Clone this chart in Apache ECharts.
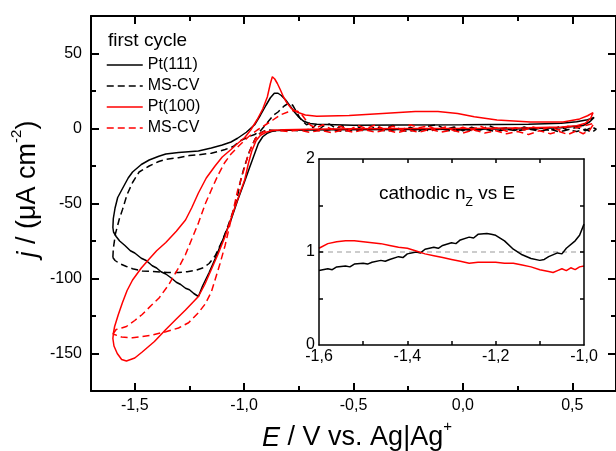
<!DOCTYPE html>
<html><head><meta charset="utf-8">
<script src="https://cdn.jsdelivr.net/npm/echarts@6/dist/echarts.min.js"></script>
<style>html,body{margin:0;padding:0;background:#fff}#c{width:616px;height:451px}</style>
</head><body><div id="c"></div>
<script>
// ---- tick labels / ticks ----
const mainXLabels = [-1.5, -1.0, -0.5, 0.0, 0.5];
const mainXMinor = [-1.25, -0.75, -0.25, 0.25];
const mainYLabels = [-150, -100, -50, 0, 50];
const mainYMinor = [-125, -75, -25, 25];
const insetXLabels = [-1.6, -1.4, -1.2, -1.0];
const insetXTicks = [-1.5, -1.4, -1.3, -1.2, -1.1];
const insetYLabels = [0, 1, 2];
const insetYTicks = [0.5, 1, 1.5];
const legendNames = ['Pt(111)', 'MS-CV', 'Pt(100)', 'MS-CV '];

// ---- main CVs: [E (V), j (uA cm-2)] ----
const pt111 = [
[-1.600,-66],[-1.598,-60],[-1.590,-53],[-1.578,-46],[-1.556,-40],[-1.530,-33],[-1.510,-29],[-1.470,-24],[-1.434,-21],[-1.390,-18.5],[-1.358,-17],[-1.300,-16],[-1.209,-15],[-1.150,-13],[-1.100,-11],[-1.060,-9],[-1.030,-6.5],[-0.990,-2.5],[-0.952,2.5],[-0.925,9],[-0.900,15.5],[-0.880,20.5],[-0.862,23.5],[-0.845,23.5],[-0.830,22],[-0.810,19],[-0.790,15],[-0.770,11],[-0.750,7.5],[-0.727,4.8],[-0.700,3.3],[-0.668,2.8],[-0.500,2.2],[-0.300,2.3],[0.000,2.5],[0.300,2.8],[0.450,3.5],[0.520,4.5],[0.570,5.8],[0.600,7.3],
[0.580,4.5],[0.550,2],[0.450,0.5],[0.300,-0.2],[0.000,-0.5],[-0.300,-0.6],[-0.600,-0.8],[-0.800,-1.1],[-0.850,-1.4],[-0.875,-2],[-0.895,-3.2],[-0.915,-5.5],[-0.935,-10],[-0.955,-18],[-0.975,-26],[-0.997,-35],[-1.030,-48],[-1.060,-61],[-1.100,-75],[-1.133,-87],[-1.160,-96],[-1.190,-105],[-1.209,-112],
[-1.230,-110],[-1.250,-107.5],[-1.268,-106.5],[-1.290,-104],[-1.310,-102.5],[-1.330,-100],[-1.358,-97],[-1.380,-95.5],[-1.400,-93],[-1.420,-91.5],[-1.448,-88],[-1.470,-86.5],[-1.500,-83],[-1.520,-81.5],[-1.545,-78],[-1.569,-75],[-1.585,-72],[-1.597,-69],[-1.600,-66]
];
const msCv111 = [
[-1.600,-86],[-1.598,-80],[-1.588,-70],[-1.570,-60],[-1.556,-54],[-1.535,-44],[-1.510,-36],[-1.480,-29],[-1.434,-25],[-1.390,-22],[-1.358,-20.5],[-1.300,-19.5],[-1.250,-18],[-1.209,-17.5],[-1.150,-16.5],[-1.110,-15],[-1.087,-14],[-1.050,-12],[-1.015,-8],[-0.980,-5.5],[-0.952,-4],[-0.925,-1.5],[-0.905,2],[-0.885,5.5],[-0.865,9],[-0.845,11],[-0.817,15],[-0.795,17],[-0.778,15.5],[-0.760,11],[-0.745,7],[-0.730,4.5],[-0.715,2.5],
[-0.700,3.5],[-0.685,0.5],[-0.670,2.8],[-0.655,-0.5],[-0.640,1.5],[-0.610,3],[-0.580,0],[-0.550,1.8],[-0.520,-0.8],[-0.480,1],[-0.440,-1.5],[-0.400,1.2],[-0.360,-0.5],[-0.320,2],[-0.280,-1],[-0.240,0.8],[-0.200,-1.8],[-0.160,1.5],[-0.120,2.5],[-0.080,-0.5],[-0.040,1],[0.000,-1.5],[0.040,0.8],[0.080,-1],[0.120,1.8],[0.160,-0.5],[0.200,0.5],[0.240,-1.2],[0.280,1],[0.320,-0.8],[0.360,0.5],[0.400,-1.5],[0.440,1.2],[0.480,-0.8],[0.520,0.8],[0.560,-1.5],[0.590,1],[0.610,-0.5],
[0.590,-2.5],[0.560,-0.5],[0.520,-2],[0.480,-0.8],[0.440,-2.2],[0.400,-0.5],[0.350,-1.8],[0.300,-0.3],[0.250,-1.5],[0.200,-0.6],[0.150,-2],[0.100,-0.4],[0.050,-1.6],[0.000,-0.5],[-0.050,-1.8],[-0.100,-0.3],[-0.150,-1.5],[-0.200,-0.5],[-0.250,-2],[-0.300,-0.6],[-0.350,-1.7],[-0.400,-0.4],[-0.450,-1.5],[-0.500,-0.8],[-0.550,-2],[-0.600,-0.5],[-0.650,-1.6],[-0.700,-0.5],[-0.750,-1.5],[-0.800,-0.8],[-0.850,-1.5],[-0.890,-1],[-0.910,-1.8],[-0.930,-3.5],[-0.950,-7],[-0.975,-15],[-1.000,-26],[-1.015,-34],[-1.030,-45],[-1.050,-55],[-1.074,-65],[-1.100,-75],[-1.133,-85],[-1.160,-90],[-1.190,-93],[-1.220,-94.5],[-1.260,-95.5],[-1.300,-96],[-1.350,-96],[-1.400,-95.5],[-1.466,-95],[-1.510,-93.5],[-1.538,-92],[-1.570,-90],[-1.590,-88],[-1.600,-86]
];
const pt100 = [
[-1.600,-140],[-1.597,-136],[-1.592,-132],[-1.575,-124],[-1.556,-116],[-1.535,-108],[-1.510,-101],[-1.470,-93],[-1.434,-87],[-1.400,-81.5],[-1.358,-76],[-1.310,-68.5],[-1.268,-61],[-1.240,-53],[-1.209,-43],[-1.173,-33],[-1.133,-25],[-1.100,-19],[-1.060,-14],[-1.030,-10],[-0.997,-6],[-0.970,-1],[-0.940,6],[-0.915,13],[-0.894,21],[-0.880,30],[-0.871,34.5],[-0.860,33],[-0.848,30],[-0.835,26],[-0.820,21],[-0.804,17],[-0.785,13.5],[-0.760,11],[-0.720,9],[-0.668,8.2],[-0.520,8.7],[-0.367,10],[-0.218,11.3],[-0.114,11.3],[-0.024,10],[0.052,7.8],[0.156,5.6],[0.309,4.4],[0.458,4.4],[0.534,6.4],[0.570,8.5],[0.595,10.6],
[0.585,7],[0.560,3.5],[0.520,1.8],[0.450,1],[0.300,0.5],[0.100,0.2],[-0.200,0],[-0.500,-0.2],[-0.700,-0.5],[-0.820,-0.8],[-0.870,-1.4],[-0.900,-2.5],[-0.925,-4.5],[-0.945,-8],[-0.965,-15],[-0.980,-23],[-0.997,-34],[-1.029,-47],[-1.060,-60],[-1.087,-72],[-1.120,-84],[-1.150,-94],[-1.180,-104],[-1.209,-112],[-1.268,-121],[-1.310,-127],[-1.358,-134],[-1.410,-142],[-1.466,-149],[-1.500,-153],[-1.538,-155],[-1.560,-154],[-1.580,-150],[-1.595,-145],[-1.600,-140]
];
const msCv100 = [
[-1.600,-137],[-1.585,-134],[-1.560,-133],[-1.538,-132],[-1.500,-128],[-1.466,-124],[-1.425,-118],[-1.389,-113],[-1.344,-104],[-1.300,-93],[-1.268,-84],[-1.240,-74],[-1.209,-63],[-1.177,-50],[-1.150,-41],[-1.119,-31],[-1.090,-23],[-1.060,-17],[-1.020,-11],[-0.980,-5.5],[-0.940,-1],[-0.907,2],[-0.870,5.5],[-0.835,9],[-0.800,11],[-0.775,12],[-0.755,11.5],[-0.735,9],[-0.715,5],[-0.695,2],
[-0.670,0.5],[-0.640,2.5],[-0.600,-0.5],[-0.560,1.5],[-0.520,-1],[-0.480,2],[-0.440,0],[-0.400,2.5],[-0.360,-0.5],[-0.320,1.5],[-0.280,-1],[-0.240,2.5],[-0.200,0.5],[-0.160,1.8],[-0.120,-0.8],[-0.080,1],[-0.040,-1.5],[0.000,0.8],[0.040,-1],[0.080,1.5],[0.120,-0.8],[0.160,0.5],[0.200,-1.8],[0.240,0.5],[0.280,-1],[0.320,1],[0.360,-0.5],[0.400,0.8],[0.440,-1],[0.480,1.5],[0.520,0.5],[0.560,2],[0.600,3.5],
[0.580,-1],[0.550,-3.5],[0.520,-1.5],[0.480,-4],[0.440,-2],[0.400,-3.5],[0.350,-1.5],[0.300,-4],[0.250,-2],[0.200,-3.5],[0.150,-1.5],[0.100,-3],[0.050,-1],[0.000,-3],[-0.050,-1],[-0.100,-2.5],[-0.150,-0.5],[-0.200,-2.5],[-0.250,-1],[-0.300,-2.8],[-0.350,-1],[-0.400,-2.5],[-0.450,-0.8],[-0.500,-2.5],[-0.550,-1],[-0.600,-2.8],[-0.650,-1.2],[-0.700,-2.5],[-0.750,-1],[-0.800,-2],[-0.850,-1.2],[-0.900,-1.5],[-0.925,-3],[-0.950,-7],[-0.980,-17],[-1.000,-27],[-1.029,-41],[-1.060,-61],[-1.087,-78],[-1.110,-90],[-1.133,-101],[-1.150,-109],[-1.178,-117],[-1.210,-123],[-1.254,-129.5],[-1.300,-133],[-1.358,-135.5],[-1.430,-138],[-1.510,-139.5],[-1.560,-139],[-1.600,-137]
];

// ---- inset: cathodic n_Z vs E ----
const insetPt111 = [
[-1.60,0.80],[-1.58,0.82],[-1.57,0.81],[-1.56,0.84],[-1.54,0.85],[-1.53,0.84],[-1.52,0.87],[-1.50,0.88],[-1.49,0.87],[-1.48,0.89],[-1.46,0.91],[-1.45,0.90],[-1.44,0.92],[-1.42,0.95],[-1.41,0.94],[-1.40,0.98],[-1.38,1.00],[-1.37,0.99],[-1.36,1.03],[-1.34,1.05],[-1.33,1.04],[-1.32,1.07],[-1.30,1.10],[-1.29,1.09],[-1.28,1.13],[-1.26,1.16],[-1.25,1.15],[-1.24,1.19],[-1.22,1.20],[-1.21,1.19],[-1.20,1.18],[-1.18,1.12],[-1.16,1.03],[-1.14,0.97],[-1.12,0.93],[-1.10,0.91],[-1.09,0.92],[-1.08,0.95],[-1.06,0.99],[-1.05,0.98],[-1.04,1.04],[-1.02,1.12],[-1.01,1.18],[-1.00,1.30]
];
const insetPt100 = [
[-1.60,1.04],[-1.58,1.09],[-1.56,1.11],[-1.54,1.12],[-1.52,1.12],[-1.50,1.11],[-1.48,1.10],[-1.46,1.09],[-1.44,1.07],[-1.42,1.05],[-1.40,1.04],[-1.38,1.01],[-1.36,0.98],[-1.34,0.96],[-1.32,0.94],[-1.30,0.92],[-1.28,0.90],[-1.26,0.88],[-1.24,0.89],[-1.22,0.89],[-1.20,0.89],[-1.18,0.88],[-1.16,0.88],[-1.14,0.86],[-1.12,0.84],[-1.10,0.81],[-1.08,0.79],[-1.07,0.78],[-1.06,0.80],[-1.05,0.82],[-1.04,0.80],[-1.03,0.83],[-1.02,0.81],[-1.01,0.84],[-1.00,0.85]
];
const insetRef = [[-1.6, 1], [-1.0, 1]];

const FONT = '"Liberation Sans", Arial, sans-serif';
const fmtComma = v => (Math.abs(v) < 1e-9 ? 0 : v).toFixed(1).replace('.', ',');

function axis(o) {
  const a = {
    type: 'value', gridIndex: o.grid, position: o.pos, min: o.min, max: o.max,
    axisLine: { show: !!o.line, onZero: false, lineStyle: { color: '#000', width: o.lw || 2 } },
    axisTick: { show: true, inside: true, length: o.tl, customValues: o.ticks, lineStyle: { color: '#000', width: o.tw || 2 } },
    axisLabel: { show: false },
    splitLine: { show: false }, minorTick: { show: false }, z: 5
  };
  if (o.labels) {
    a.axisLabel = { show: true, customValues: o.labels, formatter: o.fmt, margin: o.margin,
      fontSize: 16, color: '#000', fontFamily: FONT };
  }
  return a;
}

const xAxes = [
  axis({ grid: 0, pos: 'bottom', min: -1.7, max: 0.7, line: true, tl: 8, ticks: mainXLabels, labels: mainXLabels, fmt: fmtComma, margin: 7 }),
  axis({ grid: 0, pos: 'bottom', min: -1.7, max: 0.7, tl: 5, ticks: mainXMinor }),
  axis({ grid: 0, pos: 'top', min: -1.7, max: 0.7, line: true, tl: 8, ticks: mainXLabels }),
  axis({ grid: 0, pos: 'top', min: -1.7, max: 0.7, tl: 5, ticks: mainXMinor }),
  axis({ grid: 1, pos: 'bottom', min: -1.6, max: -1.0, line: true, lw: 1.5, tw: 1.5, tl: 4, ticks: insetXTicks, labels: insetXLabels, fmt: fmtComma, margin: 4 }),
  axis({ grid: 1, pos: 'top', min: -1.6, max: -1.0, line: true, lw: 1.5, tw: 1.5, tl: 4, ticks: insetXTicks })
];
const yAxes = [
  axis({ grid: 0, pos: 'left', min: -175, max: 75, line: true, tl: 8, ticks: mainYLabels, labels: mainYLabels, fmt: v => String(v), margin: 9 }),
  axis({ grid: 0, pos: 'left', min: -175, max: 75, tl: 5, ticks: mainYMinor }),
  axis({ grid: 0, pos: 'right', min: -175, max: 75, line: true, tl: 8, ticks: mainYLabels }),
  axis({ grid: 0, pos: 'right', min: -175, max: 75, tl: 5, ticks: mainYMinor }),
  axis({ grid: 1, pos: 'left', min: 0, max: 2, line: true, lw: 1.5, tw: 1.5, tl: 4, ticks: insetYTicks, labels: insetYLabels, fmt: v => String(v), margin: 4 }),
  axis({ grid: 1, pos: 'right', min: 0, max: 2, line: true, lw: 1.5, tw: 1.5, tl: 4, ticks: insetYTicks })
];

function line(name, data, color, dashed, xi, yi, w) {
  return { type: 'line', name, data, xAxisIndex: xi, yAxisIndex: yi, symbol: 'none', showSymbol: false,
    smooth: false, animation: false, silent: true,
    lineStyle: { color, width: w || 1.5, type: dashed ? (Array.isArray(dashed) ? dashed : [7, 4]) : 'solid' },
    itemStyle: { color } };
}

const chart = echarts.init(document.getElementById('c'), null, { renderer: 'canvas' });
chart.setOption({
  animation: false,
  backgroundColor: '#fff',
  grid: [
    { left: 91, top: 16, width: 533, height: 375, show: false },
    { left: 319, top: 159, width: 265, height: 186, show: true, backgroundColor: '#fff', borderWidth: 0, z: 3 }
  ],
  xAxis: xAxes,
  yAxis: yAxes,
  legend: {
    data: legendNames, orient: 'vertical', left: 101, top: 52, itemWidth: 36, itemHeight: 14, itemGap: 5,
    formatter: n => n.trim(), selectedMode: false,
    itemStyle: { opacity: 0, borderWidth: 0 },
    lineStyle: { width: 1.5 },
    textStyle: { fontSize: 16, color: '#000', fontFamily: FONT }
  },
  series: [
    line('Pt(111)', pt111, '#000', false, 0, 0),
    line('MS-CV', msCv111, '#000', true, 0, 0),
    line('Pt(100)', pt100, '#ff0000', false, 0, 0),
    line('MS-CV ', msCv100, '#ff0000', true, 0, 0),
    line('n=1', insetRef, '#999', [5, 4], 4, 4, 1.2),
    line('nZ Pt(111)', insetPt111, '#000', false, 4, 4),
    line('nZ Pt(100)', insetPt100, '#ff0000', false, 4, 4)
  ],
  graphic: [
    { type: 'text', x: 108, y: 41, z: 10, style: { text: 'first cycle', fill: '#000', font: '19px ' + FONT, align: 'left', verticalAlign: 'middle' } },
    { type: 'text', x: 447, y: 194, z: 10, style: {
        text: '{n|cathodic n}{b|Z}{n| vs E}', align: 'center', verticalAlign: 'middle',
        rich: { n: { fontSize: 19, fontFamily: FONT, fill: '#000', lineHeight: 29 },
                b: { fontSize: 12, fontFamily: FONT, fill: '#000', verticalAlign: 'bottom', lineHeight: 12 } } } },
    { type: 'text', x: 357, y: 438, z: 10, style: {
        text: '{i|E}{n| / V vs. Ag|Ag}{s|+}', align: 'center', verticalAlign: 'middle',
        rich: { i: { fontSize: 27, fontStyle: 'italic', fontFamily: FONT, fill: '#000', lineHeight: 37 },
                n: { fontSize: 27, fontFamily: FONT, fill: '#000', lineHeight: 37 },
                s: { fontSize: 15, fontFamily: FONT, fill: '#000', verticalAlign: 'top', lineHeight: 15 } } } },
    { type: 'text', x: 28, y: 189, rotation: Math.PI / 2, z: 10, style: {
        text: '{i|j}{n| / (μA cm}{s|-2}{n|)}', align: 'center', verticalAlign: 'middle',
        rich: { i: { fontSize: 27, fontStyle: 'italic', fontFamily: FONT, fill: '#000', lineHeight: 37 },
                n: { fontSize: 27, fontFamily: FONT, fill: '#000', lineHeight: 37 },
                s: { fontSize: 15, fontFamily: FONT, fill: '#000', verticalAlign: 'top', lineHeight: 15 } } } }
  ]
});
</script>
</body></html>
